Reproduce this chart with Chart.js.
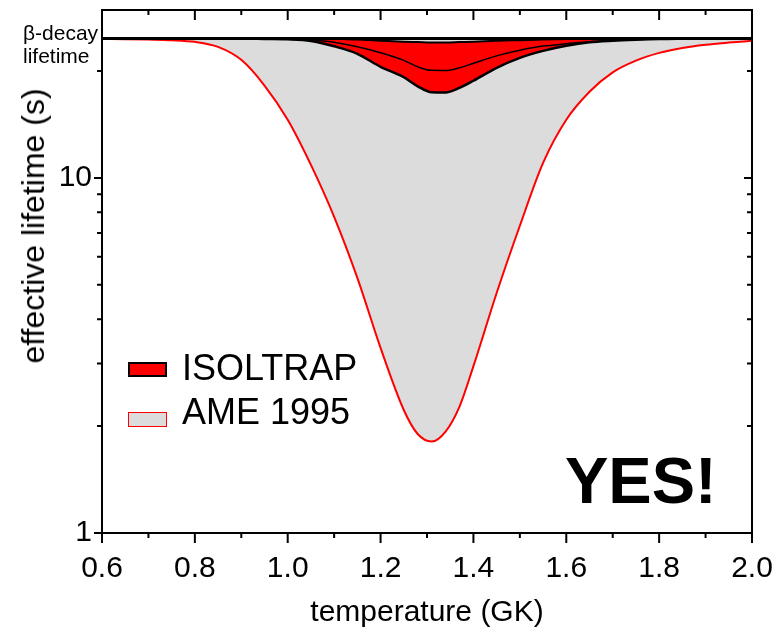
<!DOCTYPE html>
<html>
<head>
<meta charset="utf-8">
<script src="https://cdn.jsdelivr.net/npm/chart.js@4/dist/chart.umd.min.js"></script>
<style>
  html, body { margin: 0; padding: 0; background: #fff; }
  #wrap { position: relative; width: 778px; height: 635px; overflow: hidden; font-family: "Liberation Sans", Arial, sans-serif; }
  canvas { position: absolute; left: 0; top: 0; }
  .lbl { position: absolute; color: #000; white-space: nowrap; line-height: 1; }
  .sw { position: absolute; box-sizing: border-box; }
</style>
</head>
<body>
<div id="wrap">
  <canvas id="c" width="778" height="635"></canvas>
  <div class="lbl" id="beta" style="left:23px; top:21px; font-size:21px; line-height:23px;">β-decay<br>lifetime</div>
  <div class="lbl" id="ytitle" style="left:33px; top:226px; font-size:32px; transform: translate(-50%, -50%) rotate(-90deg);">effective lifetime (s)</div>
  <div class="sw" style="left:128px; top:362px; width:39px; height:15px; background:#ff0000; border:2px solid #000;"></div>
  <div class="lbl" style="left:182px; top:350px; font-size:36px;">ISOLTRAP</div>
  <div class="sw" style="left:128px; top:412px; width:39px; height:15px; background:#dcdcdc; border:1.5px solid #ff0000;"></div>
  <div class="lbl" style="left:182px; top:394px; font-size:36px;">AME 1995</div>
  <div class="lbl" style="left:565px; top:448px; font-size:65px; font-weight:bold;">YES!</div>
</div>
<script>
// ---- data ----
const temperature = [0.60,0.65,0.70,0.75,0.80,0.85,0.90,0.95,1.00,1.05,1.10,1.15,1.20,1.25,1.28,1.31,1.34,1.37,1.40,1.45,1.50,1.55,1.60,1.65,1.70,1.75,1.80,1.85,1.90,1.95,2.00,2.03];
const betaLifetime = [24.7,24.7,24.7,24.7,24.7,24.7,24.7,24.7,24.7,24.7,24.7,24.7,24.7,24.7,24.7,24.7,24.7,24.7,24.7,24.7,24.7,24.7,24.7,24.7,24.7,24.7,24.7,24.7,24.7,24.7,24.7,24.7];
const ameLower = [24.6,24.58,24.52,24.42,24.16,23.39,21.5,18.2,14.58,10.88,7.77,5.23,3.32,2.22,1.90,1.81,1.93,2.27,2.95,4.74,7.33,11.02,14.58,17.48,19.82,21.38,22.49,23.23,23.71,24.04,24.32,24.49];
const isoltrapLower = [24.68,24.68,24.68,24.68,24.68,24.68,24.68,24.62,24.56,24.3,23.47,22.36,20.55,19.2,18.11,17.42,17.4,17.93,18.77,20.42,21.78,22.79,23.55,24.08,24.32,24.48,24.6,24.65,24.68,24.68,24.68,24.68];
const isoltrapCentral = [24.68,24.68,24.68,24.68,24.68,24.68,24.68,24.68,24.66,24.48,24.08,23.39,22.5,21.43,20.55,20.08,20.06,20.42,21.02,22.06,22.87,23.5,23.85,24.16,24.4,24.56,24.64,24.67,24.68,24.68,24.68,24.68];
const isoltrapUpper = [24.68,24.68,24.68,24.68,24.68,24.68,24.68,24.68,24.68,24.68,24.64,24.51,24.35,24.19,24.12,24.05,24.05,24.12,24.19,24.32,24.43,24.54,24.62,24.66,24.68,24.68,24.68,24.68,24.68,24.68,24.68,24.68];
const xMajorTicks = [0.6,0.8,1.0,1.2,1.4,1.6,1.8,2.0];
const xMinorTicks = [0.7,0.9,1.1,1.3,1.5,1.7,1.9];
const yMajorTicks = [1,10];
const yMinorTicks = [2,3,4,5,6,7,8,9,20];

const pts = arr => temperature.map((t, i) => ({x: t, y: arr[i]}));

const frameTicks = {
  id: 'frameTicks',
  afterDraw(chart) {
    const {ctx, chartArea: a, scales: {x, y}} = chart;
    ctx.save();
    ctx.strokeStyle = '#000';
    ctx.lineWidth = 2;
    ctx.lineCap = 'butt';
    ctx.beginPath();
    ctx.rect(a.left, a.top, a.right - a.left, a.bottom - a.top);
    ctx.stroke();
    ctx.beginPath();
    const xt = (v, len) => {
      const px = x.getPixelForValue(v);
      ctx.moveTo(px, a.bottom); ctx.lineTo(px, a.bottom + len);
      ctx.moveTo(px, a.top); ctx.lineTo(px, a.top + len);
    };
    const yt = (v, len) => {
      const py = y.getPixelForValue(v);
      ctx.moveTo(a.left, py); ctx.lineTo(a.left - len, py);
      ctx.moveTo(a.right, py); ctx.lineTo(a.right - len, py);
    };
    xMajorTicks.forEach(v => xt(v, 10));
    xMinorTicks.forEach(v => xt(v, 5));
    yMajorTicks.forEach(v => yt(v, 8));
    yMinorTicks.forEach(v => yt(v, 5));
    ctx.stroke();
    ctx.restore();
  }
};

const tickFont = {family: '"Liberation Sans", Arial, sans-serif', size: 30};

new Chart(document.getElementById('c'), {
  type: 'line',
  data: {
    datasets: [
      { label: 'AME 1995', data: pts(ameLower), borderColor: '#ff0000', borderWidth: 2,
        backgroundColor: '#dcdcdc', fill: {target: 1}, order: 4 },
      { label: 'beta-decay lifetime', data: pts(betaLifetime), borderColor: '#000000', borderWidth: 3,
        fill: false, order: 0 },
      { label: 'ISOLTRAP', data: pts(isoltrapLower), borderColor: '#000000', borderWidth: 2.5,
        backgroundColor: '#ff0000', fill: {target: 4}, order: 3 },
      { label: 'ISOLTRAP central', data: pts(isoltrapCentral), borderColor: '#000000', borderWidth: 1.5,
        fill: false, order: 2 },
      { label: 'ISOLTRAP upper', data: pts(isoltrapUpper), borderColor: '#000000', borderWidth: 2,
        fill: false, order: 1 }
    ]
  },
  options: {
    responsive: false,
    animation: false,
    events: [],
    layout: { padding: { top: 10, right: 26, left: 0, bottom: 0 }, autoPadding: false },
    elements: {
      point: { radius: 0 },
      line: { cubicInterpolationMode: 'monotone' }
    },
    datasets: { line: { clip: false } },
    plugins: { legend: { display: false }, tooltip: { enabled: false } },
    scales: {
      x: {
        type: 'linear', min: 0.6, max: 2.0,
        afterBuildTicks: ax => { ax.ticks = xMajorTicks.map(v => ({value: v})); },
        afterFit: ax => { ax.height = 102; ax.paddingLeft = 0; ax.paddingRight = 0; },
        grid: { display: false, drawTicks: false },
        border: { display: false },
        ticks: { font: tickFont, color: '#000', padding: 18, maxRotation: 0, autoSkip: false,
                 callback: v => Number(v).toFixed(1) },
        title: { display: true, text: 'temperature (GK)', color: '#000',
                 font: {family: '"Liberation Sans", Arial, sans-serif', size: 30}, padding: {top: 6} }
      },
      y: {
        type: 'logarithmic', min: 1, max: 29.7,
        afterBuildTicks: ax => { ax.ticks = yMajorTicks.map(v => ({value: v})); },
        afterFit: ax => { ax.width = 102; ax.paddingTop = 0; ax.paddingBottom = 0; },
        grid: { display: false, drawTicks: false },
        border: { display: false },
        ticks: { font: tickFont, color: '#000', padding: 10, autoSkip: false, callback: v => String(v) }
      }
    }
  },
  plugins: [frameTicks]
});
</script>
</body>
</html>
